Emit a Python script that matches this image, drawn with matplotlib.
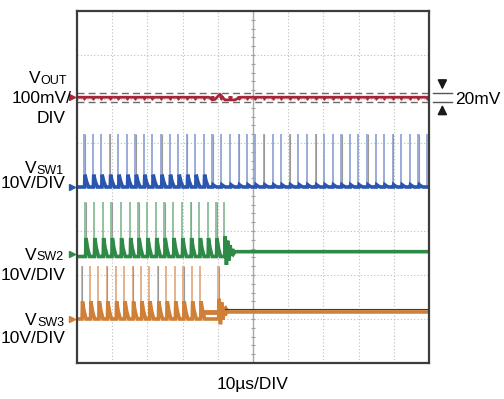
import numpy as np
import matplotlib
matplotlib.use('Agg')
import matplotlib.pyplot as plt

plt.rcParams['font.family'] = ['Liberation Sans', 'DejaVu Sans']

W, H = 504, 399

sw1_spikes = [2.0, 4.5, 6.9, 9.3, 11.7, 14.2, 16.6, 19.0, 21.4, 23.9, 26.3, 28.8,
              31.2, 33.6, 36.0, 38.4, 40.9, 43.5, 45.9, 48.3, 50.6, 53.1, 55.6,
              58.0, 60.4, 62.9, 65.3, 67.8, 70.2, 72.6, 75.0, 77.5, 79.9, 82.4,
              84.9, 87.2, 89.7, 92.1, 94.5, 97.0, 99.4]
sw2_spikes = [2.3, 4.8, 7.3, 9.8, 12.4, 15.0, 17.4, 19.9, 22.4, 24.8, 27.3, 29.8,
              32.3, 34.8, 37.1, 39.5, 41.8]
sw3_spikes = [1.3, 3.7, 6.1, 8.5, 11.0, 13.4, 15.8, 18.2, 20.5, 23.0, 25.4, 27.8,
              30.2, 32.6, 35.0, 40.1]

# levels in divisions (screen centre = 0)
sw1_levels = dict(gnd=0.0, peak=1.2, ring=0.28, ring_end=37.0, after=0.0)
sw2_levels = dict(gnd=-1.52, low=-1.58, peak=-0.34, ring=0.42, ring_end=50.0, after=-1.47)
sw3_levels = dict(gnd=-3.0, low=-3.0, peak=-1.8, ring=0.4, ring_end=50.0, after=-2.84)

# ringing once switching stops (div, relative to settled level)
sw2_decay = [0.35, -0.3, 0.25, -0.2, 0.15, -0.1, 0.06, -0.04, 0.0]
sw3_decay = [0.3, -0.28, 0.22, -0.18, 0.12, -0.08, 0.05, 0.0]
# raised orange band just before the last pulse (start, end, level)
sw3_shelf = (36.2, 39.7, -2.84)

# output voltage (div), 100mV/DIV
vout_t = [0, 37.5, 38.4, 39.2, 40.6, 42.0, 44.9, 46.3, 100]
vout_v = [2.04, 2.04, 1.98, 1.99, 2.11, 1.98, 1.98, 2.04, 2.04]
vout_ref = 2.04

RED = '#a52638'
BLUE = '#2b56b0'
GREEN = '#2f8a48'
ORANGE = '#cf7f36'


def sw_trace(spikes, low, ring, ring_end, after, decay):
    t = [0.0]
    v = [low]
    for s in spikes[:-1]:
        r = ring if s < ring_end else 0.05
        t += [s - 0.1, s + 0.15, s + 0.25, s + 0.7, s + 1.3]
        v += [low, low, low + r, low + 0.45 * r, low]
    s = spikes[-1]
    t += [s - 0.1, s + 0.15]
    v += [low, low]
    for k, d in enumerate(decay):
        t.append(s + 0.3 + 0.35 * k)
        v.append(after + d)
    t.append(100)
    v.append(after)
    return t, v


fig = plt.figure(figsize=(W / 100, H / 100), dpi=100)
ax = fig.add_axes([77 / W, 1 - 363 / H, 352 / W, 352 / H])
ax.set_xlim(0, 100)
ax.set_ylim(-4, 4)
ax.set_xticks([])
ax.set_yticks([])
for sp in ax.spines.values():
    sp.set_color('#3c3c3c')
    sp.set_linewidth(1.6)

# scope graticule
for x in range(10, 100, 10):
    if x != 50:
        ax.axvline(x, color='#bdbdbd', lw=0.8, ls=(0, (1, 2)))
for y in range(-3, 4):
    if y != 0:
        ax.axhline(y, color='#bdbdbd', lw=0.8, ls=(0, (1, 2)))
ax.axvline(50, color='#a8a8a8', lw=1.0)
ax.axhline(0, color='#b0b0b0', lw=0.8)
ax.plot(np.full(40, 50), np.arange(-4, 4, 0.2), ls='none', marker='_', ms=2.5, color='#a0a0a0', mew=0.8)

# VOUT
ax.axhline(vout_ref + 0.1, color='#6a6a6a', lw=1.0, ls=(0, (5, 3)))
ax.axhline(vout_ref - 0.1, color='#6a6a6a', lw=1.0, ls=(0, (5, 3)))
ax.plot(vout_t, vout_v, color=RED, lw=2.0)
ax.plot(sw1_spikes, np.full(len(sw1_spikes), vout_ref - 0.02), ls='none', marker='v', ms=2.5, color=RED)

# switch nodes
for spikes, lv, col, light, decay in [
        (sw1_spikes, sw1_levels, BLUE, '#8a9fd2', []),
        (sw2_spikes, sw2_levels, GREEN, '#7fb78e', sw2_decay),
        (sw3_spikes, sw3_levels, ORANGE, '#e0a678', sw3_decay)]:
    low = lv.get('low', lv['gnd'])
    ax.vlines(spikes, low, lv['peak'], color=light, lw=1.2)
    ax.vlines(np.array(spikes[::3]) + 0.15, low, lv['peak'], color='#9a9a9a', lw=0.8)
    t, v = sw_trace(spikes, low, lv['ring'], lv['ring_end'], lv['after'], decay)
    ax.plot(t, v, color=col, lw=2.6, solid_joinstyle='miter')

ax.plot(sw3_shelf[:2], [sw3_shelf[2]] * 2, color=ORANGE, lw=3.5)
ax.axhline(sw3_levels['after'] + 0.06, xmin=0.42, color='#3a3a3a', lw=0.8)

# ground markers
for lvl, col in [(vout_ref, RED), (sw1_levels['gnd'], BLUE),
                 (sw2_levels['gnd'], GREEN), (sw3_levels['gnd'], ORANGE)]:
    ax.plot([-1.3], [lvl], marker='>', ms=5, color=col, clip_on=False)

# 20mV scale mark
for y in (vout_ref + 0.1, vout_ref - 0.1):
    ax.plot([101.1, 106.6], [y, y], color='#555555', lw=1.0, clip_on=False)
ax.annotate('', xy=(103.8, vout_ref + 0.11), xytext=(103.8, vout_ref + 0.45),
            arrowprops=dict(arrowstyle='-|>', color='#1a1a1a', lw=1.2, mutation_scale=14),
            annotation_clip=False)
ax.annotate('', xy=(103.8, vout_ref - 0.11), xytext=(103.8, vout_ref - 0.45),
            arrowprops=dict(arrowstyle='-|>', color='#1a1a1a', lw=1.2, mutation_scale=14),
            annotation_clip=False)
fig.text(455 / W, 1 - 104 / H, '20mV', fontsize=12.5, ha='left', va='baseline')

FS = 12.5
renderer = fig.canvas.get_renderer()


def label(xr, yb, main, sub=None):
    x = xr / W
    y = 1 - yb / H
    if sub:
        t = fig.text(x, 1 - (yb + 0.5) / H, sub, fontsize=FS * 0.72, ha='right', va='baseline')
        w = t.get_window_extent(renderer).width
        x = (xr - w) / W
    fig.text(x, y, main, fontsize=FS, ha='right', va='baseline')


label(67, 83, 'V', 'OUT')
label(72, 103, '100mV/')
label(66, 123, 'DIV')
label(64, 173, 'V', 'SW1')
label(66, 188, '10V/DIV')
label(64, 260, 'V', 'SW2')
label(66, 280, '10V/DIV')
label(64, 325, 'V', 'SW3')
label(66, 343, '10V/DIV')
fig.text(253 / W, 1 - 389 / H, '10µs/DIV', fontsize=FS, ha='center', va='baseline')

fig.savefig('out.png', dpi=100)
